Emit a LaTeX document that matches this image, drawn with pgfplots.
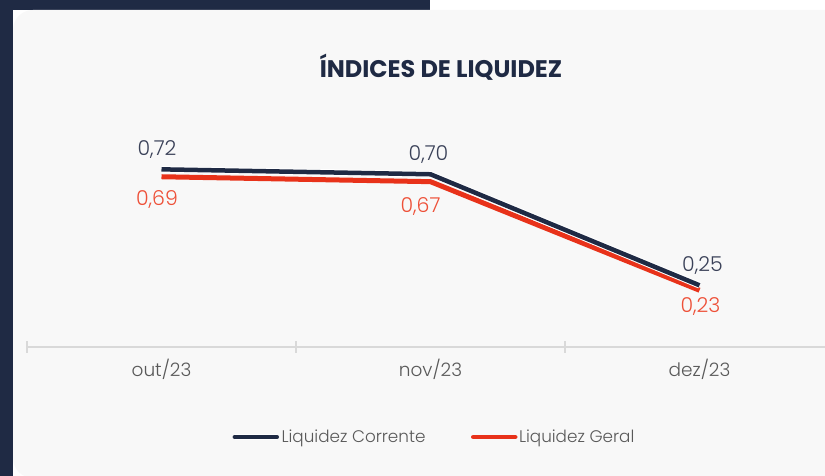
\documentclass[border=0pt]{standalone}
\usepackage{pgfplots}
\pgfplotsset{compat=1.18}
\usepackage{pgfplotstable}
\usepackage{fontspec}
\setmainfont{Poppins}
\newfontfamily\lightf{Poppins Light}
\definecolor{navy}{HTML}{1F2A44}
\definecolor{card}{HTML}{F8F8F8}
\definecolor{redl}{HTML}{E8321A}
\definecolor{redt}{HTML}{EE5038}
\definecolor{navyt}{HTML}{3A4158}
\definecolor{txt}{HTML}{595959}
\definecolor{axl}{HTML}{D9D9D9}

\pgfplotstableread{
x y lab dx dy
0 0.72 0,72 -4.5 19.5
1 0.70 0,70 -2 20
2 0.25 0,25 3 19.5
}\corrente
\pgfplotstableread{
x y lab dx dy
0 0.69 0,69 -4.5 -23
1 0.67 0,67 -10 -24.5
2 0.23 0,23 1 -16
}\geral

\begin{document}
\begin{tikzpicture}[x=1pt,y=1pt]
\useasboundingbox (0,0) rectangle (825,476);
\clip (0,0) rectangle (825,476);
\fill[white] (0,0) rectangle (825,476);
\fill[navy] (0,0) rectangle (13,476);
\fill[navy] (0,466) rectangle (430,476);
\fill[card, rounded corners=20pt] (13,-2) rectangle (860,466);
\node[font=\bfseries\fontsize{24}{28}\selectfont, text=navy] at (441,408.5) {ÍNDICES DE LIQUIDEZ};
\begin{axis}[
  at={(27pt,129pt)}, anchor=south west,
  scale only axis, width=807pt, height=197.4pt,
  xmin=-0.5, xmax=2.5, ymin=0, ymax=0.8,
  clip=false,
  axis x line=bottom, axis y line=none,
  axis line style={draw=axl, line width=2pt, -},
  xtick={0,1,2}, xticklabels={out/23,nov/23,dez/23},
  major tick length=0pt,
  minor xtick={-0.5,0.5,1.5,2.5},
  minor tick length=12pt, tick align=center,
  minor tick style={draw=axl, line width=1.5pt},
  xticklabel style={font=\lightf\fontsize{18.5}{22}\selectfont, text=txt, yshift=-9pt},
  legend columns=2,
  reverse legend,
  legend style={at={(0.504,-0.456)}, anchor=center, draw=none, fill=none,
    font=\lightf\fontsize{16.8}{20}\selectfont, text=txt,
    nodes={inner sep=1.5pt},
    /tikz/every even column/.append style={column sep=44pt}},
  legend image code/.code={\draw[#1, line width=4.5pt, line cap=round] (0pt,0pt) -- (42pt,0pt);},
  point meta=explicit symbolic,
  visualization depends on={\thisrow{dx} \as \dx},
  visualization depends on={\thisrow{dy} \as \dy},
]
\addplot[redl, line width=5pt, line join=round, mark=none,
  nodes near coords,
  every node near coord/.append style={anchor=center, xshift=\dx pt, yshift=\dy pt, text=redt, font=\lightf\fontsize{20.5}{24}\selectfont}]
  table[x=x, y=y, meta=lab] {\geral};
\addlegendentry{Liquidez Geral}
\addplot[navy, line width=4.5pt, line join=round, mark=none,
  preaction={draw=white, line width=6.5pt},
  nodes near coords,
  every node near coord/.append style={anchor=center, xshift=\dx pt, yshift=\dy pt, text=navyt, font=\lightf\fontsize{20.5}{24}\selectfont}]
  table[x=x, y=y, meta=lab] {\corrente};
\addlegendentry{Liquidez Corrente}
\end{axis}
\end{tikzpicture}
\end{document}
